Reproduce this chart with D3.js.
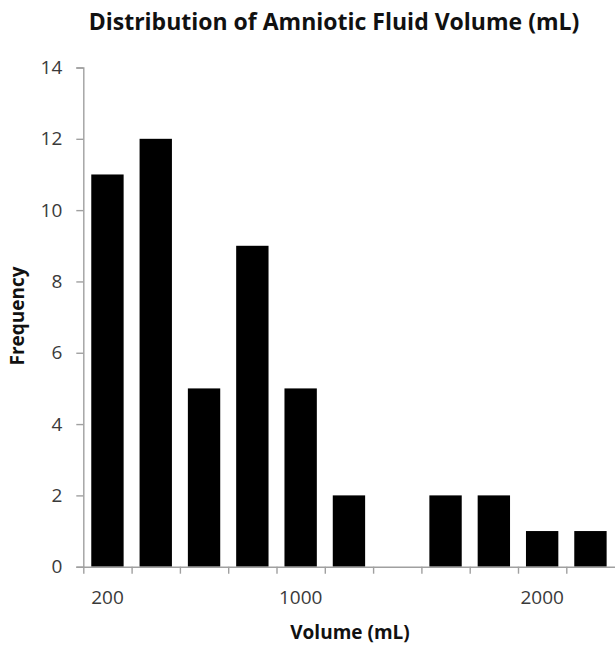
<!DOCTYPE html>
<html>
<head>
<meta charset="utf-8">
<script src="https://cdn.jsdelivr.net/npm/d3@7"></script>
<style>
  html, body { margin: 0; padding: 0; background: #fff; }
  svg { display: block; font-family: "Open Sans", sans-serif; }
</style>
</head>
<body>
<svg id="chart" width="615" height="647"></svg>
<script>
// ---- Data ----
const categories = [200, 400, 600, 800, 1000, 1200, 1400, 1600, 1800, 2000, 2200];
const frequencies = [11, 12, 5, 9, 5, 2, 0, 2, 2, 1, 1];
const xTickLabels = ["200", "", "", "", "1000", "", "", "", "", "2000", ""];
const yTicks = [0, 2, 4, 6, 8, 10, 12, 14];
const titleText = "Distribution of Amniotic Fluid Volume (mL)";
const xTitle = "Volume (mL)";
const yTitle = "Frequency";

// ---- Layout ----
const svg = d3.select("#chart");
const plotLeft = 83.3, plotRight = 614.6, plotTop = 67.5, plotBottom = 566.7;
const axisColor = "#a0a0a0";
const labelColor = "#3a3a3a";

const x = d3.scaleBand()
  .domain(categories)
  .range([plotLeft, plotRight])
  .paddingInner(0.33)
  .paddingOuter(0.165);

const xEdge = d3.scaleLinear().domain([0, categories.length]).range([plotLeft, plotRight]);

const y = d3.scaleLinear().domain([0, 14]).range([plotBottom, plotTop]);

// Bars
svg.append("g").selectAll("rect")
  .data(categories.map((c, i) => ({ c, v: frequencies[i] })))
  .join("rect")
  .attr("x", d => x(d.c))
  .attr("width", x.bandwidth())
  .attr("y", d => y(d.v))
  .attr("height", d => y(0) - y(d.v))
  .attr("fill", "#000");

// Y axis
const yAxis = svg.append("g")
  .attr("transform", `translate(${plotLeft},0)`)
  .call(d3.axisLeft(y).tickValues(yTicks).tickSize(7).tickSizeOuter(7).tickPadding(14));
yAxis.selectAll("path, line").attr("stroke", axisColor).attr("stroke-width", 1.4);
yAxis.selectAll("text").attr("font-size", 19).attr("fill", labelColor)
  .attr("font-family", "Open Sans, sans-serif");

// X axis: boundary ticks
const xEdgeAxis = svg.append("g")
  .attr("transform", `translate(0,${plotBottom})`)
  .call(d3.axisBottom(xEdge).tickValues(d3.range(0, categories.length)).tickFormat("").tickSize(7).tickSizeOuter(0));
xEdgeAxis.selectAll("path, line").attr("stroke", axisColor).attr("stroke-width", 1.4);

// X axis: category labels
const xAxis = svg.append("g")
  .attr("transform", `translate(0,${plotBottom})`)
  .call(d3.axisBottom(x).tickSize(0).tickPadding(23.5).tickFormat((d, i) => xTickLabels[i]));
xAxis.select(".domain").remove();
xAxis.selectAll("text").attr("font-size", 19).attr("fill", labelColor)
  .attr("font-family", "Open Sans, sans-serif");

// Title
svg.append("text")
  .attr("x", 334).attr("y", 29.5)
  .attr("text-anchor", "middle")
  .attr("font-size", 23).attr("font-weight", "bold").attr("fill", "#111")
  .text(titleText);

// X title
svg.append("text")
  .attr("x", 350).attr("y", 639)
  .attr("text-anchor", "middle")
  .attr("font-size", 19).attr("font-weight", "bold").attr("fill", "#111")
  .text(xTitle);

// Y title
svg.append("text")
  .attr("transform", "translate(24,316) rotate(-90)")
  .attr("text-anchor", "middle")
  .attr("font-size", 19).attr("font-weight", "bold").attr("fill", "#111")
  .text(yTitle);
</script>
</body>
</html>
